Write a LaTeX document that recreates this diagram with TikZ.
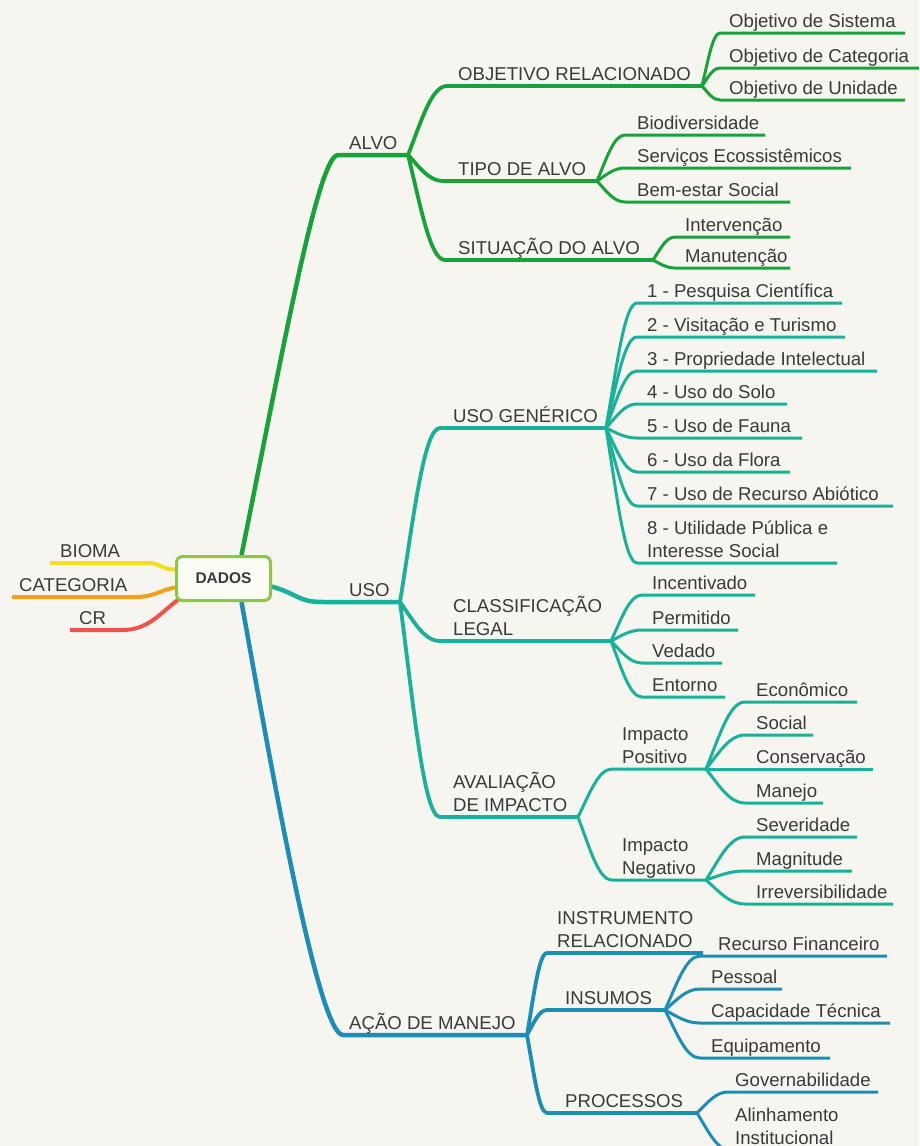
\documentclass[tikz,border=0pt]{standalone}
\usepackage{fontspec}
\setmainfont{Liberation Sans}
\usetikzlibrary{calc}
\definecolor{paper}{HTML}{F6F5F0}
\definecolor{ink}{HTML}{3A3A3A}
\definecolor{cg}{HTML}{17A339}
\definecolor{ct}{HTML}{18B29A}
\definecolor{cb}{HTML}{1C8EB5}
\definecolor{cy}{HTML}{F2DF1E}
\definecolor{co}{HTML}{F5A01C}
\definecolor{cr}{HTML}{EF534C}
\definecolor{boxline}{HTML}{8DC63F}
\definecolor{boxfill}{HTML}{FCFCF7}
\pgfdeclarelayer{paperlayer}
\pgfdeclarelayer{wires}
\pgfsetlayers{paperlayer,wires,main}

% two-line label whose baseline is the last line
\newcommand\twolines[2]{\begin{tabular}[b]{@{}l@{}}#1\\#2\end{tabular}}

% branch: parent end, name, line start x, line y, line end x, text x, text, style
\newcommand\twig[8]{%
  \coordinate (#2-s) at (#3,#4);
  \coordinate (#2-e) at (#5,#4);
  \node[lbl] (#2) at (#6,#4-6) {#7};
  \draw[#8] let \p1=(#1), \p2=(#2-s) in
    (\p1) .. controls (\x1+0.35*\x2-0.35*\x1, \y1+0.5*\y2-0.5*\y1)
             and (\x1+0.6*\x2-0.6*\x1, \y2) .. (\p2) -- (#2-e);
}

\begin{document}
\begin{tikzpicture}[x=1pt,y=-1pt,
  lbl/.style={anchor=base west,inner sep=0pt,text=ink,font=\fontsize{18.6}{22.5}\selectfont},
  wire/.style={line join=round},
  gmain/.style={wire,draw=cg,line width=4.5pt},
  gsub/.style={wire,draw=cg,line width=3.8pt},
  gleaf/.style={wire,draw=cg,line width=3pt},
  tmain/.style={wire,draw=ct,line width=4.5pt},
  tsub/.style={wire,draw=ct,line width=3.8pt},
  tleaf/.style={wire,draw=ct,line width=3pt},
  bmain/.style={wire,draw=cb,line width=4.5pt},
  bsub/.style={wire,draw=cb,line width=3.8pt},
  bleaf/.style={wire,draw=cb,line width=3pt},
  side/.style={wire,line width=4pt}]
\useasboundingbox (0,0) rectangle (919,1146);
\begin{pgfonlayer}{paperlayer}
  \fill[paper] (0,0) rectangle (919,1146);
\end{pgfonlayer}

% central box
\node[draw=boxline,line width=3pt,rounded corners=6pt,fill=boxfill,
      minimum width=94pt,minimum height=44pt,inner sep=0pt,
      font=\bfseries\fontsize{15.5}{18}\selectfont,text=ink] (dados) at (223.5,578.5) {DADOS};

% left side branches
\coordinate (bioma-s) at (148,563);
\coordinate (bioma-e) at (50,563);
\node[lbl] (bioma) at (60,557) {BIOMA};
\coordinate (cat-s) at (135,597);
\coordinate (cat-e) at (12,597);
\node[lbl] (cat) at (19,591) {CATEGORIA};
\coordinate (crb-s) at (122,630);
\coordinate (crb-e) at (70,630);
\node[lbl] (crb) at (79,624) {CR};

% main branches
\coordinate (alvo-s) at (338,155);
\coordinate (alvo-e) at (408,155);
\node[lbl] (alvo) at (349,149) {ALVO};
\coordinate (uso-s) at (323,602);
\coordinate (uso-e) at (400,602);
\node[lbl] (uso) at (349,596) {USO};
\coordinate (acao-s) at (343,1035);
\coordinate (acao-e) at (527,1035);
\node[lbl] (acao) at (349,1029) {AÇÃO DE MANEJO};

\begin{pgfonlayer}{wires}
  \draw[side,cy] ([yshift=9pt]dados.west) .. controls (163,570) and (160,563) .. (bioma-s) -- (bioma-e);
  \draw[side,co] ([yshift=-9pt]dados.west) .. controls (160,590) and (155,597) .. (cat-s) -- (cat-e);
  \draw[side,cr] ([xshift=4pt,yshift=3pt]dados.south west) .. controls (158,615) and (148,630) .. (crb-s) -- (crb-e);
  \draw[gmain] ([xshift=18pt]dados.north) .. controls (282,355) and (318,155) .. (alvo-s) -- (alvo-e);
  \draw[tmain] ([yshift=-8pt]dados.east) .. controls (300,595) and (298,602) .. (uso-s) -- (uso-e);
  \draw[bmain] ([xshift=18pt]dados.south) .. controls (270,760) and (318,1035) .. (acao-s) -- (acao-e);
\end{pgfonlayer}

% ALVO
\twig{alvo-e}{objrel}{447}{86}{702}{458}{OBJETIVO RELACIONADO}{gsub}
\twig{alvo-e}{tipo}{443}{181}{597}{458}{TIPO DE ALVO}{gsub}
\twig{alvo-e}{sit}{445}{260}{653}{458}{SITUAÇÃO DO ALVO}{gsub}
\twig{objrel-e}{objsis}{720}{33}{905}{729}{Objetivo de Sistema}{gleaf}
\twig{objrel-e}{objcat}{720}{68}{919}{729}{Objetivo de Categoria}{gleaf}
\twig{objrel-e}{objuni}{720}{100}{905}{729}{Objetivo de Unidade}{gleaf}
\twig{tipo-e}{bio}{625}{135}{765}{637}{Biodiversidade}{gleaf}
\twig{tipo-e}{serv}{625}{168}{851}{637}{Serviços Ecossistêmicos}{gleaf}
\twig{tipo-e}{bem}{625}{202}{790}{637}{Bem-estar Social}{gleaf}
\twig{sit-e}{interv}{675}{237}{790}{685}{Intervenção}{gleaf}
\twig{sit-e}{manut}{675}{268}{790}{685}{Manutenção}{gleaf}

% USO
\twig{uso-e}{usogen}{440}{428}{606}{453}{USO GENÉRICO}{tsub}
\twig{uso-e}{classif}{440}{641}{611}{453}{\twolines{CLASSIFICAÇÃO}{LEGAL}}{tsub}
\twig{uso-e}{aval}{440}{817}{578}{453}{\twolines{AVALIAÇÃO}{DE IMPACTO}}{tsub}
\twig{usogen-e}{u1}{637}{303}{842}{647}{1 - Pesquisa Científica}{tleaf}
\twig{usogen-e}{u2}{637}{337}{845}{647}{2 - Visitação e Turismo}{tleaf}
\twig{usogen-e}{u3}{637}{371}{877}{647}{3 - Propriedade Intelectual}{tleaf}
\twig{usogen-e}{u4}{637}{404}{787}{647}{4 - Uso do Solo}{tleaf}
\twig{usogen-e}{u5}{637}{438}{802}{647}{5 - Uso de Fauna}{tleaf}
\twig{usogen-e}{u6}{637}{472}{790}{647}{6 - Uso da Flora}{tleaf}
\twig{usogen-e}{u7}{637}{506}{893}{647}{7 - Uso de Recurso Abiótico}{tleaf}
\twig{usogen-e}{u8}{637}{563}{837}{647}{\twolines{8 - Utilidade Pública e}{Interesse Social}}{tleaf}
\twig{classif-e}{inc}{642}{595}{755}{652}{Incentivado}{tleaf}
\twig{classif-e}{perm}{642}{630}{738}{652}{Permitido}{tleaf}
\twig{classif-e}{ved}{642}{663}{722}{652}{Vedado}{tleaf}
\twig{classif-e}{ent}{642}{697}{725}{652}{Entorno}{tleaf}
\twig{aval-e}{impos}{612}{769}{706}{622}{\twolines{Impacto}{Positivo}}{tleaf}
\twig{aval-e}{imneg}{612}{880}{706}{622}{\twolines{Impacto}{Negativo}}{tleaf}
\twig{impos-e}{econ}{745}{702}{857}{756}{Econômico}{tleaf}
\twig{impos-e}{soc}{745}{735}{813}{756}{Social}{tleaf}
\twig{impos-e}{cons}{745}{769}{873}{756}{Conservação}{tleaf}
\twig{impos-e}{manejo}{745}{803}{823}{756}{Manejo}{tleaf}
\twig{imneg-e}{sev}{745}{837}{857}{756}{Severidade}{tleaf}
\twig{imneg-e}{magn}{745}{871}{852}{756}{Magnitude}{tleaf}
\twig{imneg-e}{irrev}{745}{904}{893}{756}{Irreversibilidade}{tleaf}

% AÇÃO DE MANEJO
\twig{acao-e}{instr}{547}{953}{703}{557}{\twolines{INSTRUMENTO}{RELACIONADO}}{bsub}
\twig{acao-e}{insumos}{547}{1010}{665}{565}{INSUMOS}{bsub}
\twig{acao-e}{proc}{547}{1113}{697}{565}{PROCESSOS}{bsub}
\twig{insumos-e}{recfin}{700}{956}{887}{718}{Recurso Financeiro}{bleaf}
\twig{insumos-e}{pessoal}{700}{989}{782}{711}{Pessoal}{bleaf}
\twig{insumos-e}{captec}{700}{1023}{890}{711}{Capacidade Técnica}{bleaf}
\twig{insumos-e}{equip}{700}{1058}{830}{711}{Equipamento}{bleaf}
\twig{proc-e}{gov}{728}{1092}{878}{735}{Governabilidade}{bleaf}
\twig{proc-e}{alin}{730}{1150}{880}{735}{\twolines{Alinhamento}{Institucional}}{bleaf}
\end{tikzpicture}
\end{document}
